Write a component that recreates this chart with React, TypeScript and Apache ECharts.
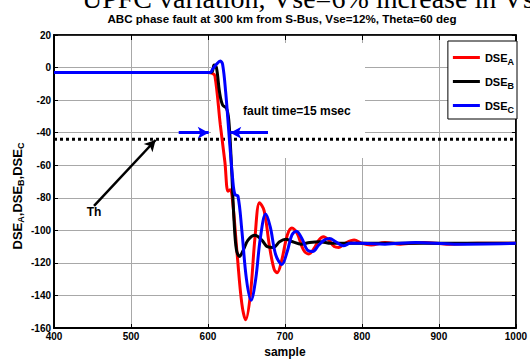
import React, { useEffect, useRef } from "react";
import * as echarts from "echarts";

const seriesNames = ["DSE_A", "DSE_B", "DSE_C"];
const yAxisTitle = "DSE{s|A},DSE{s|B},DSE{s|C}";

const dseA: [number, number][] = [
  [400, -3], [600, -3], [605, -3.5], [609, -5], [616, -35], [622, -58], [626, -76], [629, -75],
  [632, -82], [638, -115], [644, -145], [649, -155], [655, -140], [661, -105], [667, -83],
  [673, -88], [680, -110], [686, -124], [690, -126], [696, -118], [703, -103], [709, -98.5],
  [716, -102], [724, -112], [731, -114.5], [738, -111], [744, -106], [750, -104], [757, -106],
  [764, -110], [770, -110.5], [778, -108], [790, -106], [800, -108], [812, -109], [830, -107.5],
  [850, -108.5], [880, -107.5], [910, -108.5], [950, -108], [1000, -108],
];

const dseB: [number, number][] = [
  [400, -3], [604, -3], [608, 1.5], [611, 0], [615, -15], [619, -23], [624, -25], [627, -32],
  [630, -55], [634, -95], [637, -112], [641, -116], [646, -112], [652, -106], [661, -103],
  [670, -106], [677, -110], [685, -110.5], [693, -107], [701, -105.5], [710, -107], [721, -108.5],
  [732, -107.5], [745, -107], [760, -108], [780, -108], [850, -108], [1000, -108],
];

const dseC: [number, number][] = [
  [400, -3], [603, -3], [606, -1], [611, 2], [616, 4], [619, 2], [623, -15], [628, -45],
  [632, -68], [635, -78], [639, -79], [644, -100], [650, -130], [656, -143], [662, -130],
  [668, -105], [675, -90], [681, -98], [688, -115], [696, -121], [703, -113], [709, -103],
  [715, -100.5], [722, -105], [729, -112], [736, -113], [744, -109], [751, -106], [758, -105],
  [766, -107], [776, -109.5], [785, -108], [800, -108], [830, -108.5], [870, -107.5],
  [920, -108.5], [1000, -108],
];

const thresholdValue = -44;
const xRange = [400, 1000];
const yRange = [-160, 20];

const FONT = "Liberation Sans, Arial, sans-serif";

export default function App() {
  const ref = useRef<HTMLDivElement>(null);
  useEffect(() => {
    const chart = echarts.init(ref.current!, null, { renderer: "svg" });
    const axisLabel = { fontFamily: FONT, fontWeight: "bold", fontSize: 10, color: "#000" };
    chart.setOption({
      animation: false,
      backgroundColor: "#fff",
      grid: { left: 54, right: 10, top: 35, bottom: 35, show: true, borderColor: "#000", borderWidth: 1.5 },
      xAxis: [
        {
          type: "value", min: xRange[0], max: xRange[1], interval: 100,
          name: "sample", nameLocation: "middle", nameGap: 18,
          nameTextStyle: { fontFamily: FONT, fontWeight: "bold", fontSize: 12, color: "#000" },
          axisLine: { onZero: false, lineStyle: { color: "#000", width: 2 } },
          axisTick: { inside: true, length: 4, lineStyle: { color: "#000" } },
          axisLabel: { ...axisLabel, margin: 3, showMaxLabel: true, showMinLabel: true, formatter: (v: number) => String(v) },
          splitLine: { show: true, lineStyle: { color: "#a8a8a8", width: 1 } },
        },
        {
          type: "value", position: "top", min: xRange[0], max: xRange[1], interval: 100,
          axisLine: { onZero: false, lineStyle: { color: "#000", width: 1.5 } },
          axisTick: { inside: true, length: 5, lineStyle: { color: "#000" } },
          axisLabel: { show: false }, splitLine: { show: false },
        },
      ],
      yAxis: [
        {
          type: "value", min: yRange[0], max: yRange[1], interval: 20,
          axisLine: { onZero: false, lineStyle: { color: "#000", width: 2 } },
          axisTick: { inside: true, length: 4, lineStyle: { color: "#000" } },
          axisLabel: { ...axisLabel, margin: 3 },
          splitLine: { show: true, lineStyle: { color: "#a8a8a8", width: 1 } },
        },
        {
          type: "value", position: "right", min: yRange[0], max: yRange[1], interval: 20,
          axisLine: { onZero: false, lineStyle: { color: "#000", width: 1.5 } },
          axisTick: { inside: true, length: 4, lineStyle: { color: "#000" } },
          axisLabel: { show: false }, splitLine: { show: false },
        },
      ],
      legend: {
        data: seriesNames, orient: "vertical", right: 13, top: 41,
        backgroundColor: "#fff", borderColor: "#000", borderWidth: 1,
        padding: [8, 3, 5, 5], itemWidth: 27, itemHeight: 3, itemGap: 7, icon: "rect",
        formatter: (n: string) => `DSE{s|${n.slice(-1)}}`,
        textStyle: {
          fontFamily: FONT, fontWeight: "bold", fontSize: 11, color: "#000", lineHeight: 13, verticalAlign: "top",
          rich: { s: { fontFamily: FONT, fontWeight: "bold", fontSize: 9, color: "#000", lineHeight: 11, padding: [8, 0, 0, 0] } },
        },
      },
      series: [
        {
          name: "DSE_A", type: "line", data: dseA, showSymbol: false, symbol: "none", smooth: 0.35,
          lineStyle: { color: "#ff0000", width: 3 }, itemStyle: { color: "#ff0000" }, z: 3,
        },
        {
          name: "DSE_B", type: "line", data: dseB, showSymbol: false, symbol: "none", smooth: 0.35,
          lineStyle: { color: "#000000", width: 3 }, itemStyle: { color: "#000000" }, z: 4,
        },
        {
          name: "DSE_C", type: "line", data: dseC, showSymbol: false, symbol: "none", smooth: 0.35,
          lineStyle: { color: "#0000ff", width: 3 }, itemStyle: { color: "#0000ff" }, z: 5,
        },
        {
          name: "Th", type: "line", data: [[xRange[0], thresholdValue], [xRange[1], thresholdValue]],
          showSymbol: false, symbol: "none", silent: true, z: 2,
          lineStyle: { color: "#000", width: 3, type: [3, 3] },
          markLine: {
            silent: true, symbol: ["none", "arrow"], symbolSize: [9, 11], label: { show: false },
            data: [
              [{ coord: [562, -40], lineStyle: { color: "#0000ff", width: 3, type: "solid" } }, { coord: [601, -40] }],
              [{ coord: [678, -40], lineStyle: { color: "#0000ff", width: 3, type: "solid" } }, { coord: [629, -40] }],
              [{ coord: [452, -85], lineStyle: { color: "#000", width: 2.5, type: "solid" } }, { coord: [532, -44.5] }],
            ],
          },
        },
      ],
      graphic: [
        {
          type: "rect", z: 1, silent: true,
          shape: { x: 211, y: 43, width: 154, height: 115 },
          style: { fill: "#fff" },
        },
        {
          type: "text", x: 17, y: 196, rotation: Math.PI / 2, z: 10,
          style: {
            text: yAxisTitle, fontFamily: FONT, fontWeight: "bold", fontSize: 13, fill: "#000",
            align: "center", verticalAlign: "middle", lineHeight: 14,
            rich: {
              s: { fontFamily: FONT, fontWeight: "bold", fontSize: 9, fill: "#000", lineHeight: 12, padding: [7, 0, 0, 0] },
            },
          },
        },
        {
          type: "text", left: 82, top: -16, z: 10,
          style: { text: "UPFC variation, Vse=6% increase in Vse", fontFamily: "Liberation Serif, Times New Roman, serif", fontSize: 28, fill: "#000" },
        },
        {
          type: "text", x: 282, y: 18, z: 10,
          style: { text: "ABC phase fault at 300 km from S-Bus, Vse=12%, Theta=60 deg", fontFamily: FONT, fontWeight: "bold", fontSize: 11.6, fill: "#000", align: "center", verticalAlign: "middle" },
        },
        {
          type: "text", x: 243, y: 111, z: 10,
          style: { text: "fault time=15 msec", fontFamily: FONT, fontWeight: "bold", fontSize: 12, fill: "#000", align: "left", verticalAlign: "middle" },
        },
        {
          type: "text", x: 94, y: 212, z: 10,
          style: { text: "Th", fontFamily: FONT, fontWeight: "bold", fontSize: 12, fill: "#000", align: "center", verticalAlign: "middle" },
        },
      ],
    });
    return () => chart.dispose();
  }, []);
  return <div ref={ref} style={{ position: "fixed", left: 0, top: 0, width: 530, height: 363 }} />;
}
